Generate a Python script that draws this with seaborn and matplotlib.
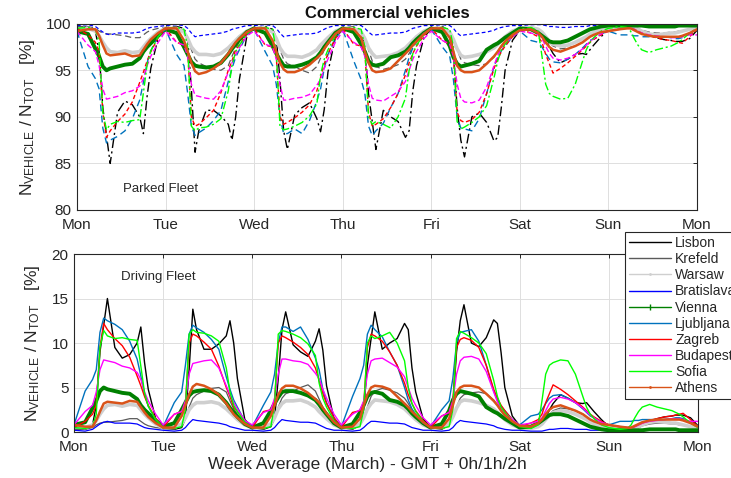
# Commercial vehicles - weekly parked / driving fleet share per city
import numpy as np
import pandas as pd
import matplotlib
matplotlib.use("Agg")
import matplotlib.pyplot as plt
import seaborn as sns
from matplotlib.lines import Line2D

day_hours = [0, 3, 5, 6, 7, 8, 9, 11, 13, 15, 17, 18, 19, 20, 22]
day_names = ["Mon", "Tue", "Wed", "Thu", "Fri", "Sat", "Sun", "Mon"]
cities = ["Lisbon", "Krefeld", "Warsaw", "Bratislava", "Vienna",
          "Ljubljana", "Zagreb", "Budapest", "Sofia", "Athens"]

# driving fleet [%], one row per day Mon..Sun + value at next Mon 0h
lisbon = [0.5, 0.3, 0.8, 3.0, 9.0, 12.0, 15.0, 9.5, 8.3, 8.7, 10.0, 11.8, 7.8, 4.8, 1.5,
          0.4, 0.3, 0.5, 1.5, 7.0, 13.8, 11.5, 9.3, 9.3, 9.9, 10.8, 12.5, 10.0, 6.0, 1.4,
          0.5, 0.3, 0.6, 1.5, 6.0, 11.5, 13.5, 9.8, 9.0, 8.5, 10.2, 11.6, 9.2, 5.2, 1.5,
          0.5, 0.3, 0.8, 2.5, 7.5, 10.5, 13.5, 9.3, 10.0, 10.5, 12.2, 11.5, 7.2, 4.5, 1.5,
          0.5, 0.3, 0.8, 3.0, 9.0, 12.5, 14.3, 10.0, 9.6, 10.6, 12.6, 12.2, 8.9, 5.0, 1.8,
          0.7, 0.5, 0.6, 0.9, 1.5, 2.5, 3.2, 4.2, 3.8, 3.3, 3.2, 3.3, 2.8, 2.3, 1.4,
          0.6, 0.4, 0.3, 0.3, 0.4, 0.5, 0.8, 1.2, 1.5, 1.7, 1.8, 1.9, 1.9, 1.9, 1.6,
          0.7]
krefeld = [0.3, 0.3, 0.5, 0.8, 1.0, 1.1, 1.1, 1.2, 1.3, 1.5, 1.5, 1.2, 0.9, 0.7, 0.5,
           0.4, 0.4, 0.8, 1.5, 2.8, 3.8, 4.2, 4.6, 4.9, 5.0, 4.5, 3.5, 2.6, 2.0, 1.0,
           0.4, 0.4, 0.8, 1.5, 2.8, 3.8, 4.3, 4.6, 5.0, 5.3, 4.6, 3.7, 2.8, 2.1, 1.1,
           0.4, 0.4, 0.8, 1.5, 2.8, 4.0, 4.6, 4.9, 4.7, 4.4, 3.8, 3.2, 2.5, 1.9, 1.0,
           0.4, 0.4, 0.8, 1.6, 2.8, 3.8, 4.2, 4.4, 4.5, 4.3, 3.6, 3.0, 2.4, 1.9, 1.1,
           0.6, 0.5, 0.6, 0.9, 1.4, 2.0, 2.4, 2.7, 2.6, 2.4, 2.0, 1.7, 1.4, 1.2, 0.8,
           0.5, 0.3, 0.3, 0.3, 0.4, 0.5, 0.7, 0.9, 1.0, 1.0, 0.9, 0.9, 0.8, 0.8, 0.6,
           0.4]
warsaw = [0.6, 0.5, 0.8, 1.3, 2.0, 2.6, 3.0, 3.1, 2.9, 3.1, 3.0, 2.5, 2.0, 1.6, 0.9,
          0.5, 0.5, 0.9, 1.6, 2.5, 3.0, 3.3, 3.3, 3.4, 3.2, 2.6, 2.2, 1.8, 1.4, 0.8,
          0.5, 0.5, 0.9, 1.6, 2.6, 3.2, 3.5, 3.5, 3.6, 3.3, 2.8, 2.3, 1.9, 1.5, 0.8,
          0.5, 0.5, 0.9, 1.6, 2.6, 3.2, 3.6, 3.5, 3.4, 3.1, 2.6, 2.2, 1.8, 1.4, 0.8,
          0.5, 0.5, 0.9, 1.7, 2.7, 3.4, 3.6, 3.5, 3.3, 3.0, 2.6, 2.2, 1.8, 1.4, 0.8,
          0.5, 0.4, 0.6, 0.9, 1.4, 1.9, 2.2, 2.4, 2.3, 2.0, 1.6, 1.4, 1.1, 0.9, 0.6,
          0.5, 0.3, 0.3, 0.3, 0.4, 0.6, 0.8, 1.1, 1.2, 1.1, 1.0, 1.0, 0.9, 0.8, 0.6,
          0.4]
bratislava = [0.2, 0.1, 0.3, 0.6, 0.9, 1.1, 1.2, 1.0, 1.0, 1.0, 0.9, 0.7, 0.5, 0.4, 0.3,
              0.2, 0.1, 0.2, 0.5, 1.0, 1.4, 1.3, 1.2, 1.1, 1.0, 0.8, 0.6, 0.5, 0.4, 0.2,
              0.2, 0.1, 0.2, 0.5, 1.0, 1.4, 1.3, 1.2, 1.1, 1.1, 1.0, 0.8, 0.6, 0.4, 0.2,
              0.2, 0.1, 0.2, 0.5, 0.9, 1.2, 1.2, 1.1, 1.0, 1.0, 0.9, 0.7, 0.5, 0.4, 0.2,
              0.2, 0.1, 0.2, 0.5, 1.0, 1.3, 1.2, 1.1, 1.0, 0.9, 0.7, 0.5, 0.4, 0.3, 0.2,
              0.2, 0.1, 0.1, 0.1, 0.2, 0.3, 0.3, 0.4, 0.4, 0.3, 0.3, 0.3, 0.2, 0.2, 0.2,
              0.1, 0.1, 0.1, 0.1, 0.1, 0.2, 0.2, 0.3, 0.3, 0.3, 0.3, 0.3, 0.2, 0.2, 0.2,
              0.1]
vienna = [0.8, 1.1, 2.7, 3.5, 4.6, 5.0, 4.8, 4.6, 4.4, 4.3, 3.7, 3.0, 2.5, 2.1, 1.3,
          0.6, 1.0, 2.5, 3.3, 4.1, 4.5, 4.6, 4.7, 4.6, 4.2, 3.3, 2.7, 2.2, 1.7, 0.9,
          0.5, 1.0, 2.4, 3.2, 3.9, 4.5, 4.6, 4.6, 4.4, 4.1, 3.6, 3.1, 2.5, 2.0, 1.0,
          0.5, 0.9, 2.2, 3.0, 4.0, 4.4, 4.5, 4.3, 3.6, 3.4, 3.0, 2.6, 2.1, 1.7, 1.0,
          0.5, 0.9, 2.4, 3.6, 4.3, 4.6, 4.5, 4.3, 4.0, 2.8, 2.3, 2.1, 1.8, 1.5, 1.0,
          0.5, 0.6, 1.0, 1.3, 1.6, 1.9, 2.0, 2.0, 1.8, 1.4, 1.0, 0.8, 0.6, 0.5, 0.3,
          0.2, 0.2, 0.2, 0.2, 0.2, 0.2, 0.2, 0.3, 0.3, 0.3, 0.3, 0.3, 0.2, 0.2, 0.2,
          0.2]
ljubljana = [0.8, 4.6, 5.9, 7.0, 11.2, 12.8, 12.5, 12.1, 11.5, 10.2, 8.2, 6.3, 4.2, 2.9, 1.4,
             0.6, 3.3, 4.5, 7.5, 11.0, 12.0, 11.7, 11.2, 10.4, 9.3, 6.2, 4.8, 3.6, 2.8, 1.2,
             0.6, 3.0, 4.5, 6.5, 10.0, 11.8, 11.8, 11.3, 11.8, 10.4, 8.3, 7.0, 4.8, 3.3, 1.6,
             0.6, 4.0, 6.0, 7.5, 11.0, 12.0, 11.5, 10.7, 9.0, 7.5, 5.0, 3.6, 2.6, 2.0, 1.0,
             0.6, 2.5, 3.5, 6.0, 10.0, 11.2, 11.3, 11.5, 10.2, 7.5, 4.6, 3.6, 2.9, 2.4, 1.4,
             0.8, 1.8, 2.0, 2.5, 3.2, 3.8, 4.1, 4.2, 3.8, 3.3, 2.6, 2.2, 1.8, 1.6, 1.1,
             0.8, 1.2, 1.2, 1.2, 1.3, 1.3, 1.4, 1.4, 1.4, 1.4, 1.5, 1.6, 1.6, 1.5, 1.1,
             0.7]
zagreb = [0.5, 1.2, 2.0, 3.0, 9.5, 12.2, 11.5, 10.5, 9.7, 8.4, 6.3, 5.2, 4.0, 3.0, 1.5,
          0.5, 2.0, 2.3, 3.0, 10.0, 11.0, 10.8, 10.1, 9.3, 7.4, 5.0, 4.0, 2.8, 2.3, 1.1,
          0.5, 2.3, 2.5, 3.5, 10.0, 10.8, 10.6, 10.1, 9.5, 8.7, 7.2, 5.8, 4.3, 3.2, 1.6,
          0.5, 2.2, 2.4, 3.0, 9.5, 11.0, 10.8, 10.2, 9.0, 7.5, 5.5, 4.2, 3.2, 2.4, 1.3,
          0.5, 1.8, 2.2, 3.5, 9.5, 10.4, 10.6, 10.3, 9.5, 7.5, 4.8, 3.8, 3.0, 2.4, 1.4,
          0.6, 1.0, 1.4, 2.0, 3.3, 4.3, 5.3, 4.8, 4.2, 3.5, 2.8, 2.4, 2.0, 1.7, 1.2,
          0.8, 0.6, 0.5, 0.5, 0.6, 0.8, 1.0, 1.3, 1.5, 1.7, 1.8, 1.9, 2.0, 2.1, 1.4,
          0.6]
budapest = [0.8, 2.3, 3.0, 4.5, 7.0, 8.1, 8.0, 7.8, 7.4, 7.2, 6.7, 5.9, 4.5, 3.5, 2.0,
            0.8, 2.0, 2.3, 3.5, 6.5, 7.7, 7.8, 8.0, 8.1, 7.2, 5.2, 4.2, 3.3, 2.6, 1.3,
            0.8, 2.2, 2.5, 3.8, 6.5, 8.2, 8.2, 8.0, 7.9, 7.6, 6.6, 6.0, 4.8, 3.8, 2.0,
            0.8, 2.0, 2.5, 3.5, 6.5, 8.0, 8.2, 8.3, 7.8, 7.3, 6.2, 5.0, 3.8, 3.0, 1.6,
            0.8, 1.8, 2.2, 3.5, 6.5, 8.0, 8.4, 8.5, 8.2, 6.8, 4.5, 3.4, 2.6, 2.1, 1.4,
            0.8, 1.0, 1.2, 1.6, 2.4, 3.2, 3.7, 3.9, 3.7, 3.3, 2.7, 2.3, 1.9, 1.6, 1.1,
            0.8, 0.6, 0.5, 0.5, 0.6, 0.8, 1.0, 1.2, 1.3, 1.4, 1.5, 1.5, 1.5, 1.4, 1.2,
            1.2]
sofia = [0.5, 0.4, 0.6, 2.0, 9.5, 11.4, 10.8, 10.5, 10.6, 10.4, 10.3, 7.4, 4.4, 2.9, 1.4,
         0.5, 0.4, 0.6, 2.5, 11.0, 11.5, 11.2, 11.1, 10.8, 10.2, 7.2, 4.5, 3.0, 2.3, 1.1,
         0.5, 0.4, 0.6, 3.0, 11.0, 11.4, 11.3, 11.0, 10.6, 9.9, 8.6, 5.5, 3.8, 2.8, 1.3,
         0.5, 0.4, 0.6, 2.5, 10.0, 10.8, 10.5, 10.8, 11.2, 10.0, 8.0, 5.0, 3.2, 2.3, 1.2,
         0.5, 0.4, 0.6, 2.5, 10.5, 11.3, 11.1, 10.6, 10.0, 8.8, 5.8, 4.0, 2.8, 2.2, 1.2,
         0.6, 0.4, 0.8, 3.5, 6.5, 7.5, 7.8, 8.1, 8.0, 6.5, 4.0, 2.8, 2.0, 1.5, 0.8,
         0.5, 0.3, 0.4, 0.8, 1.6, 2.3, 2.8, 3.1, 2.8, 2.6, 2.4, 2.2, 2.0, 1.7, 1.0,
         0.5]
athens = [0.8, 0.6, 0.6, 1.3, 2.3, 3.2, 3.4, 3.3, 3.2, 3.5, 3.4, 2.8, 2.2, 1.7, 1.0,
          0.5, 0.5, 1.8, 3.0, 4.2, 5.1, 5.4, 5.2, 4.8, 4.2, 3.2, 2.6, 2.0, 1.6, 0.9,
          0.5, 0.5, 1.8, 3.0, 4.2, 4.9, 5.2, 5.2, 4.9, 4.4, 3.7, 3.3, 2.7, 2.1, 1.1,
          0.5, 0.6, 1.5, 3.0, 4.2, 5.0, 5.2, 5.1, 4.8, 4.0, 3.2, 2.8, 2.3, 1.9, 1.1,
          0.5, 0.5, 1.5, 3.0, 4.5, 5.0, 5.2, 5.2, 5.0, 4.3, 3.5, 3.0, 2.4, 1.9, 1.2,
          0.7, 0.6, 1.0, 1.4, 2.0, 2.5, 2.8, 3.0, 2.7, 2.4, 2.0, 1.7, 1.4, 1.2, 0.9,
          0.8, 0.6, 0.5, 0.5, 0.7, 0.9, 1.1, 1.3, 1.4, 1.4, 1.4, 1.4, 1.4, 1.3, 1.0,
          0.6]

driving = [lisbon, krefeld, warsaw, bratislava, vienna,
           ljubljana, zagreb, budapest, sofia, athens]

colors = {"Lisbon": "#000000", "Krefeld": "#5a5a5a", "Warsaw": "#cfcfcf",
          "Bratislava": "#0000ff", "Vienna": "#008000", "Ljubljana": "#0072bd",
          "Zagreb": "#ff0000", "Budapest": "#ff00ff", "Sofia": "#00ff00",
          "Athens": "#d95319"}
widths = {"Lisbon": 1.0, "Krefeld": 0.9, "Warsaw": 2.6, "Bratislava": 0.9,
          "Vienna": 2.8, "Ljubljana": 1.0, "Zagreb": 1.0, "Budapest": 1.0,
          "Sofia": 1.0, "Athens": 1.8}
parked_dashes = {"Lisbon": (7, 2.5, 1.5, 2.5), "Krefeld": (5, 3), "Warsaw": "",
                 "Bratislava": (3, 2), "Vienna": "", "Ljubljana": (5, 3),
                 "Zagreb": (3, 2), "Budapest": (4, 2), "Sofia": (6, 2, 1.5, 2),
                 "Athens": ""}
solid = {c: "" for c in cities}

# long-form table
hours = [d * 24 + h for d in range(7) for h in day_hours] + [168]
rows = []
for city, vals in zip(cities, driving):
    for h, v in zip(hours, vals):
        rows.append((city, h, v))
df = pd.DataFrame(rows, columns=["city", "hour", "driving"])
df["parked"] = 100 - df["driving"]   # parked fleet is the complement

sns.set_style("white")
plt.rcParams["font.family"] = ["Liberation Sans", "DejaVu Sans"]
plt.rcParams["mathtext.default"] = "regular"
txt = "#262626"

fig = plt.figure(figsize=(7.31, 4.78), dpi=100)
ax1 = fig.add_axes([0.1053, 0.5607, 0.8482, 0.3897])
ax2 = fig.add_axes([0.1012, 0.0962, 0.8536, 0.3724])

sns.lineplot(data=df, x="hour", y="parked", hue="city", hue_order=cities,
             palette=colors, style="city", style_order=cities, dashes=parked_dashes,
             size="city", size_order=cities, sizes=widths, estimator=None,
             legend=False, ax=ax1)
sns.lineplot(data=df, x="hour", y="driving", hue="city", hue_order=cities,
             palette=colors, style="city", style_order=cities, dashes=solid,
             size="city", size_order=cities, sizes=widths, estimator=None,
             legend=False, ax=ax2)

ylab = r"$N_{VEHICLE}$ / $N_{TOT}$   [%]"
for ax, lim, ticks in [(ax1, (80, 100), range(80, 101, 5)), (ax2, (0, 20), range(0, 21, 5))]:
    ax.set_xlim(0, 168)
    ax.set_ylim(*lim)
    ax.set_xticks(range(0, 169, 24))
    ax.set_xticklabels(day_names)
    ax.set_yticks(list(ticks))
    ax.grid(True, color="#dedede", linewidth=0.7)
    ax.tick_params(direction="in", top=True, right=True, length=3, width=0.7,
                   labelsize=11, labelcolor=txt, color=txt, pad=4)
    ax.tick_params(axis="x", pad=6)
    for s in ax.spines.values():
        s.set_color(txt)
        s.set_linewidth(0.8)
    ax.set_xlabel("")
    ax.set_ylabel(ylab, fontsize=12.5, color=txt)

ax1.yaxis.set_label_coords(-0.064, 0.5)
ax2.yaxis.set_label_coords(-0.051, 0.5)
ax1.set_title("Commercial vehicles", fontweight="bold", fontsize=12, color="#111111", pad=4)
ax2.set_xlabel("Week Average (March) - GMT + 0h/1h/2h", fontsize=12.5, color=txt)
ax2.xaxis.set_label_coords(0.471, -0.14)

ax1.text(12.5, 82.3, "Parked Fleet", fontsize=9.5, color=txt, va="center")
ax2.text(12.7, 17.4, "Driving Fleet", fontsize=9.5, color=txt, va="center")

# legend (extends past the right edge, as in the original)
handles = []
for c in cities:
    mk = "|" if c == "Vienna" else ("." if c in ("Warsaw", "Athens") else None)
    handles.append(Line2D([0], [0], color=colors[c], lw=1.0, marker=mk,
                          markersize=5 if mk == "|" else 2))
leg = fig.legend(handles, cities, loc="upper left", bbox_to_anchor=(0.855, 0.5146),
                 frameon=True, fancybox=False, fontsize=10, handlelength=3.0,
                 handletextpad=0.3, borderpad=0.3, labelspacing=0.15,
                 borderaxespad=0)
leg.get_frame().set_edgecolor(txt)
leg.get_frame().set_linewidth(0.8)
leg.get_frame().set_alpha(1)
for t in leg.get_texts():
    t.set_color(txt)

fig.savefig("out.png", dpi=100)
